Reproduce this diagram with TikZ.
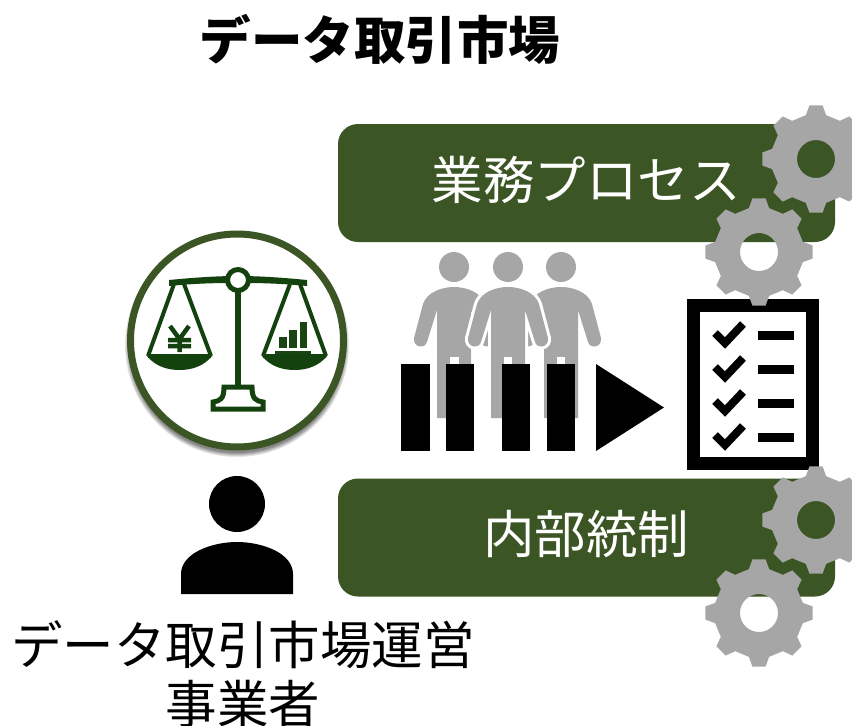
\documentclass[tikz,border=0pt]{standalone}
\usepackage{fontspec}
\setmainfont{Noto Sans CJK JP}
\definecolor{panelgreen}{HTML}{3B5524}
\definecolor{scalegreen}{HTML}{14420F}
\definecolor{geargray}{HTML}{A6A6A6}
\newcommand{\gearpath}{(-7:54) \foreach \a in {0,45,...,315} { -- (\a-7:54) -- (\a+7:54) -- (\a+13:45) -- (\a+32:45) } -- cycle (0,0) circle (19)}
\newcommand{\personpath}{(-17,418) -- (-17,310) -- (-27,342) .. controls (-29,349) and (-41,348) .. (-40,338) -- (-31,304) .. controls (-27,292) and (-12,287) .. (0,287) .. controls (12,287) and (27,292) .. (31,304) -- (40,338) .. controls (41,348) and (29,349) .. (27,342) -- (17,310) -- (17,418) -- cycle}

\begin{document}
\begin{tikzpicture}[x=1pt,y=-1pt,
    every node/.style={font=\fontsize{51.5}{59}\selectfont},
    panelbox/.style={fill=panelgreen,rounded corners=20,minimum width=497,minimum height=118,inner sep=0},
    barbox/.style={fill=black}]

        \useasboundingbox (0,0) rectangle (852,726);

        \node[font=\fontsize{51.5}{59}\selectfont\bfseries] (title) at (380,39) {データ取引市場};

        % panels
        \node[panelbox] (process) at (586.5,183) {};
        \node[panelbox] (control) at (586.5,537.5) {};
        \node[text=white] (processtext) at (586,180) {業務プロセス};
        \node[text=white] (controltext) at (586,534.5) {内部統制};

        % checklist
        \node[draw=black,line width=13,fill=white,minimum width=119,minimum height=158,inner sep=0] (list) at (753,384.5) {};
        \foreach \y in {0,34,68,102} {
          \draw[line width=8] (715,333+\y) -- (725,343+\y) -- (743,324+\y);
          \fill (758,331+\y) rectangle (794,340+\y);
        }

        % gears
        \foreach \gx/\gy in {816/159,759/252,816/520,759/613} {
          \fill[geargray,even odd rule,shift={(\gx,\gy)}] \gearpath;
        }

        % people
        \foreach \cx in {454,561} {
          \fill[geargray,shift={(\cx,0)}] \personpath;
          \fill[geargray] (\cx,267) circle (15);
        }
        \draw[white,line width=6,shift={(508,0)}] \personpath;
        \fill[geargray,shift={(508,0)}] \personpath;
        \fill[geargray] (508,267) circle (15);
        \fill[white] (450,357) rectangle (459,364);
        \fill[white] (504,357) rectangle (512,364);
        \fill[white] (557,357) rectangle (565,364);

        \fill[barbox] (401,364) rectangle (430,451);
        \fill[barbox] (446,364) rectangle (474,451);
        \fill[barbox] (502,364) rectangle (530,451);
        \fill[barbox] (547,364) rectangle (575,451);
        \fill[barbox] (596,364) -- (664,407.5) -- (596,451) -- cycle;

        % balance
        \foreach \r/\o in {4/0.10,3/0.10,2/0.12,1/0.12,0/0.15} {
          \fill[black,opacity=\o] (237,345) circle (108+\r);
        }
        \node[circle,draw=panelgreen,line width=7,fill=white,minimum size=213,inner sep=0] (balance) at (237,340.5) {};
        \draw[scalegreen,line width=6] (238,285) -- (238,387);
        \fill[scalegreen] (169,280) .. controls (200,277) and (220,276) .. (238,276) .. controls (256,276) and (276,277) .. (307,280) -- (307,286) .. controls (276,283) and (256,283) .. (238,283) .. controls (220,283) and (200,283) .. (169,286) -- cycle;
        \filldraw[fill=white,draw=scalegreen,line width=5] (238,280) circle (10.5);
        \draw[scalegreen,line width=5,fill=white] (224,387) -- (252,387) .. controls (252,399) and (256,401) .. (263,402) -- (263,409) -- (213,409) -- (213,402) .. controls (220,401) and (224,399) .. (224,387) -- cycle;
        % left pan
        \draw[scalegreen,line width=4,line join=round] (148,356) -- (174,284) (184,284) -- (211,356) (148,356) -- (211,356);
        \fill[scalegreen] (147,356) -- (212,356) .. controls (204,366) and (192,370) .. (179.5,370) .. controls (167,370) and (155,366) .. (147,356) -- cycle;
        % yen sign
        \draw[scalegreen,line width=4.5] (170,326) -- (179.5,339) -- (189,326) (179.5,339) -- (179.5,352) (168,340) -- (191,340) (168,346) -- (191,346);
        % right pan
        \draw[scalegreen,line width=4,line join=round] (263,356) -- (290,284) (300,284) -- (326,356) (263,356) -- (326,356);
        \fill[scalegreen] (262,356) -- (327,356) .. controls (319,366) and (307,370) .. (294.5,370) .. controls (282,370) and (270,366) .. (262,356) -- cycle;
        % bars
        \fill[scalegreen!85!panelgreen] (279,337) rectangle (287,348);
        \fill[scalegreen!85!panelgreen] (289,330) rectangle (297,348);
        \fill[scalegreen!85!panelgreen] (300,322) rectangle (307,348);
        \fill[scalegreen!85!panelgreen] (275,351) rectangle (311,354);

        % operator
        \fill (237,504) circle (28);
        \fill (181,594) -- (181,574) .. controls (181,553) and (212,542) .. (237,542) .. controls (262,542) and (293,553) .. (293,574) -- (293,594) -- cycle;

        \node[align=center,anchor=north] (operator) at (243,617) {データ取引市場運営\\事業者};

      \end{tikzpicture}
\end{document}
